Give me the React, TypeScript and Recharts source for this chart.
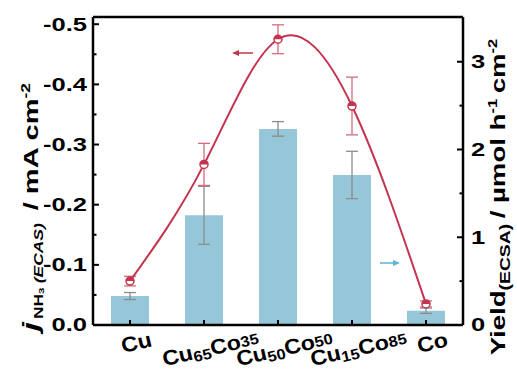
import React from "react";
import {
  Bar,
  ComposedChart,
  ErrorBar,
  Label,
  Line,
  ReferenceLine,
  XAxis,
  YAxis,
} from "recharts";

const categories = ["Cu", "Cu65Co35", "Cu50Co50", "Cu15Co85", "Co"];
const currentDensity = [-0.073, -0.267, -0.475, -0.364, -0.035];
const currentErr = [0.008, 0.035, 0.024, 0.048, 0.005];
const yieldValues = [0.33, 1.25, 2.235, 1.71, 0.163];
const yieldErr = [0.04, 0.33, 0.083, 0.27, 0.03];
const leftTicks = [0, -0.05, -0.1, -0.15, -0.2, -0.25, -0.3, -0.35, -0.4, -0.45, -0.5];
const leftMajor = [0, -0.1, -0.2, -0.3, -0.4, -0.5];
const rightTicks = [0, 0.5, 1, 1.5, 2, 2.5, 3];
const rightMajor = [0, 1, 2, 3];

const data = categories.map((name, i) => ({
  name,
  j: currentDensity[i],
  jErr: currentErr[i],
  yield: yieldValues[i],
  yieldErr: yieldErr[i],
}));

const FONT = "'Liberation Sans', Arial, sans-serif";
const RED = "#c3344f";
const RED_ERR = "#d46d7d";
const BLUE = "#95c7d9";
const STRETCH = 1.42;

function isMajor(list: number[], v: number) {
  return list.some((m) => Math.abs(m - v) < 1e-6);
}

function LeftTick(props: any) {
  const { x, y, payload } = props;
  const v = payload.value as number;
  const major = isMajor(leftMajor, v);
  return (
    <g>
      <line x1={x} x2={x + (major ? 6 : 3.5)} y1={y} y2={y} stroke="#000" strokeWidth={2} />
      {major && (
        <text
          transform={`translate(${x - 6},${y}) scale(${STRETCH},1)`}
          textAnchor="end"
          dy="0.36em"
          fontFamily={FONT}
          fontWeight="bold"
          fontSize={18}
          fill="#000"
        >
          {v === 0 ? "0.0" : v.toFixed(1)}
        </text>
      )}
    </g>
  );
}

function RightTick(props: any) {
  const { x, y, payload } = props;
  const v = payload.value as number;
  const major = isMajor(rightMajor, v);
  return (
    <g>
      <line x1={x} x2={x - (major ? 6 : 3.5)} y1={y} y2={y} stroke="#000" strokeWidth={2} />
      {major && (
        <text
          transform={`translate(${x + 8},${y}) scale(${STRETCH},1)`}
          textAnchor="start"
          dy="0.36em"
          fontFamily={FONT}
          fontWeight="bold"
          fontSize={18}
          fill="#000"
        >
          {String(v)}
        </text>
      )}
    </g>
  );
}

// subscript offsets: the first number sits low, the second nearly on the baseline
const subShift = [3, -1];

function CategoryTick(props: any) {
  const { x, y, payload } = props;
  const parts = Array.from(String(payload.value).matchAll(/([A-Z][a-z]?)(\d*)/g));
  let est = 0;
  parts.forEach((p) => {
    est += p[1].length * 14.5 + p[2].length * 8.5;
  });
  const base = y + 22 + est * 0.09;
  let prevShift = 0;
  return (
    <g>
      <line x1={x} x2={x} y1={y} y2={y - 5} stroke="#000" strokeWidth={2} />
      <text
        transform={`translate(${x + 8},${base}) rotate(-13) scale(1.1,1)`}
        textAnchor="middle"
        fontFamily={FONT}
        fontWeight="bold"
        fontSize={21}
        fill="#000"
      >
        {parts.map((p, i) => {
          const back = -prevShift;
          const s = p[2] ? subShift[i] ?? 0 : 0;
          prevShift = s;
          return (
            <React.Fragment key={i}>
              <tspan dy={back}>{p[1]}</tspan>
              {p[2] && (
                <tspan fontSize={15} dy={s}>
                  {p[2]}
                </tspan>
              )}
            </React.Fragment>
          );
        })}
      </text>
    </g>
  );
}

function HalfDot(props: any) {
  const { cx, cy } = props;
  if (cx == null || cy == null) return null;
  const r = 4;
  return (
    <g>
      <circle cx={cx} cy={cy} r={r} fill="#fff" stroke={RED} strokeWidth={1.5} />
      <path d={`M${cx - r},${cy} A${r},${r} 0 0 1 ${cx + r},${cy} Z`} fill={RED} />
    </g>
  );
}

function LeftTitle() {
  return (
    <g>
      <text
        transform={`translate(38,207) rotate(-90) scale(1.45,1)`}
        textAnchor="middle"
        fontFamily={FONT}
        fontWeight="bold"
        fontSize={20}
        fill="#000"
      >
        <tspan fontStyle="italic" fontSize={22}>j</tspan>
        <tspan fontSize={12} dx={2} dy={5}>NH</tspan>
        <tspan fontSize={8} dy={1}>3</tspan>
        <tspan fontSize={12} fontStyle="italic" dx={3} dy={-1}>(ECAS)</tspan>
        <tspan dx={9} dy={-5}>/ mA cm</tspan>
        <tspan fontSize={12} dy={-8}>-2</tspan>
      </text>
      <line x1={253} x2={237} y1={53} y2={53} stroke={RED} strokeWidth={1.5} />
      <path d="M232,53 L239,50 L239,56 Z" fill={RED} />
      <line x1={380} x2={395} y1={263} y2={263} stroke="#5db3d3" strokeWidth={1.5} />
      <path d="M400,263 L393,260 L393,266 Z" fill="#5db3d3" />
    </g>
  );
}

function RightTitle() {
  return (
    <text
      transform={`translate(505,197) rotate(-90) scale(1.38,1)`}
      textAnchor="middle"
      fontFamily={FONT}
      fontWeight="bold"
      fontSize={20}
      fill="#000"
    >
      <tspan>Yield</tspan>
      <tspan fontSize={14} dy={5}>(ECSA)</tspan>
      <tspan dx={4} dy={-5}>/ µmol h</tspan>
      <tspan fontSize={12} dy={-8}>-1</tspan>
      <tspan dx={4} dy={8}>cm</tspan>
      <tspan fontSize={12} dy={-8}>-2</tspan>
    </text>
  );
}

export default function App() {
  return (
    <div style={{ position: "absolute", left: 0, top: 0, background: "#fff" }}>
      <ComposedChart
        width={517}
        height={370}
        data={data}
        margin={{ top: 17, right: 0, bottom: 0, left: 0 }}
      >
        <XAxis
          dataKey="name"
          height={45}
          interval={0}
          tickLine={false}
          tickSize={0}
          tickMargin={0}
          axisLine={{ stroke: "#000", strokeWidth: 2.5 }}
          tick={<CategoryTick />}
        />
        <YAxis
          yAxisId="left"
          width={93}
          domain={[-0.512, 0]}
          reversed
          allowDataOverflow
          ticks={leftTicks}
          interval={0}
          tickLine={false}
          tickSize={0}
          tickMargin={0}
          axisLine={{ stroke: "#000", strokeWidth: 2.5 }}
          tick={<LeftTick />}
        >
          <Label content={() => <LeftTitle />} />
        </YAxis>
        <YAxis
          yAxisId="right"
          orientation="right"
          width={54}
          domain={[0, 3.51]}
          allowDataOverflow
          ticks={rightTicks}
          interval={0}
          tickLine={false}
          tickSize={0}
          tickMargin={0}
          axisLine={{ stroke: "#000", strokeWidth: 2.5 }}
          tick={<RightTick />}
        >
          <Label content={() => <RightTitle />} />
        </YAxis>
        <ReferenceLine
          yAxisId="left"
          y={-0.512}
          stroke="#000"
          strokeWidth={2.5}
          ifOverflow="extendDomain"
        />
        <Bar
          yAxisId="right"
          dataKey="yield"
          fill={BLUE}
          barSize={38}
          isAnimationActive={false}
        >
          <ErrorBar dataKey="yieldErr" width={6} stroke="#8c8c8c" strokeWidth={1.3} />
        </Bar>
        <Line
          yAxisId="left"
          type="natural"
          dataKey="j"
          stroke={RED}
          strokeWidth={2}
          dot={<HalfDot />}
          activeDot={false}
          isAnimationActive={false}
        >
          <ErrorBar dataKey="jErr" width={6} stroke={RED_ERR} strokeWidth={1.3} />
        </Line>
      </ComposedChart>
    </div>
  );
}
